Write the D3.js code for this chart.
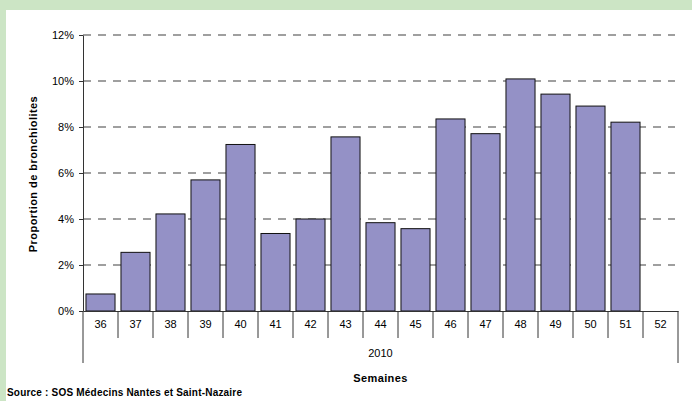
<!DOCTYPE html>
<html>
<head>
<meta charset="UTF-8" />
<title>Proportion de bronchiolites</title>
<script src="https://d3js.org/d3.v7.min.js"></script>
<style>
  body { margin: 0; background: #fff; }
  svg { display: block; font-family: "Liberation Sans", Arial, sans-serif; }
</style>
</head>
<body>
<div id="main"></div>
<script type="text/javascript">
  // data
  var weeks = ['36','37','38','39','40','41','42','43','44','45','46','47','48','49','50','51','52'];
  var values = [0.74, 2.55, 4.22, 5.70, 7.24, 3.37, 4.00, 7.57, 3.84, 3.58, 8.35, 7.71, 10.09, 9.43, 8.91, 8.21, null];
  var yTicks = [0, 2, 4, 6, 8, 10, 12];
  var yearLabel = '2010';

  var width = 692, height = 401;
  var plotL = 83, plotR = 678, plotT = 35, plotB = 311;

  var svg = d3.select('#main').append('svg')
    .attr('width', width)
    .attr('height', height);

  // green frame (top / left)
  svg.append('rect').attr('width', width).attr('height', height).attr('fill', '#cce5c5');
  svg.append('rect').attr('x', 6).attr('y', 10).attr('width', width - 6).attr('height', height - 10).attr('fill', '#fff');

  var x = d3.scaleBand().domain(weeks).range([plotL, plotR]).padding(0);
  var y = d3.scaleLinear().domain([0, 12]).range([plotB, plotT]);

  // dashed grid
  svg.append('g')
    .selectAll('line')
    .data(yTicks.filter(function(d){ return d > 0; }))
    .enter()
    .append('line')
    .attr('x1', plotL).attr('x2', plotR - 3)
    .attr('y1', function(d){ return y(d); })
    .attr('y2', function(d){ return y(d); })
    .attr('stroke', '#808080')
    .attr('stroke-width', 1.5)
    .attr('stroke-dasharray', '8,7');

  // bars
  var bw = x.bandwidth() * 0.83;
  svg.append('g')
    .selectAll('rect')
    .data(weeks.map(function(w, i){ return {w: w, v: values[i]}; }).filter(function(d){ return d.v != null; }))
    .enter()
    .append('rect')
    .attr('x', function(d){ return x(d.w) + (x.bandwidth() - bw) / 2; })
    .attr('width', bw)
    .attr('y', function(d){ return y(d.v); })
    .attr('height', function(d){ return y(0) - y(d.v); })
    .attr('fill', '#9491c6')
    .attr('stroke', '#111')
    .attr('stroke-width', 1);

  // y axis
  var yAxis = svg.append('g')
    .attr('transform', 'translate(' + plotL + ',0)')
    .call(d3.axisLeft(y).tickValues(yTicks).tickSize(4).tickSizeOuter(0)
      .tickFormat(function(d){ return d + '%'; }));
  yAxis.select('.domain').attr('stroke', '#333');
  yAxis.selectAll('.tick line').attr('stroke', '#333');
  yAxis.selectAll('.tick text').attr('font-size', 11).attr('fill', '#000')
    .attr('font-family', '"Liberation Sans", Arial, sans-serif').attr('dx', -2);

  // x axis (category labels)
  var xAxis = svg.append('g')
    .attr('transform', 'translate(0,' + plotB + ')')
    .call(d3.axisBottom(x).tickSize(0).tickSizeOuter(0));
  xAxis.select('.domain').attr('stroke', '#333');
  xAxis.selectAll('.tick text').attr('font-size', 11).attr('fill', '#000')
    .attr('font-family', '"Liberation Sans", Arial, sans-serif').attr('dy', '1.25em');

  // separators between weeks
  var seps = weeks.map(function(w){ return x(w); }).concat([plotR]);
  svg.append('g')
    .selectAll('line')
    .data(seps)
    .enter()
    .append('line')
    .attr('x1', function(d){ return d; }).attr('x2', function(d){ return d; })
    .attr('y1', plotB)
    .attr('y2', function(d, i){ return (i === 0 || i === seps.length - 1) ? 363 : 338; })
    .attr('stroke', '#333');

  svg.append('text')
    .attr('x', (plotL + plotR) / 2).attr('y', 357)
    .attr('text-anchor', 'middle').attr('font-size', 11)
    .text(yearLabel);

  svg.append('text')
    .attr('x', (plotL + plotR) / 2).attr('y', 382)
    .attr('text-anchor', 'middle').attr('font-size', 11).attr('font-weight', 'bold')
    .attr('letter-spacing', 0.4)
    .text('Semaines');

  svg.append('text')
    .attr('transform', 'translate(37,174) rotate(-90)')
    .attr('text-anchor', 'middle').attr('font-size', 11).attr('font-weight', 'bold')
    .attr('letter-spacing', 0.45)
    .text('Proportion de bronchiolites');

  svg.append('text')
    .attr('x', 7).attr('y', 396)
    .attr('font-size', 10).attr('font-weight', 'bold')
    .attr('letter-spacing', 0.2)
    .text('Source : SOS Médecins Nantes et Saint-Nazaire');
</script>
</body>
</html>
